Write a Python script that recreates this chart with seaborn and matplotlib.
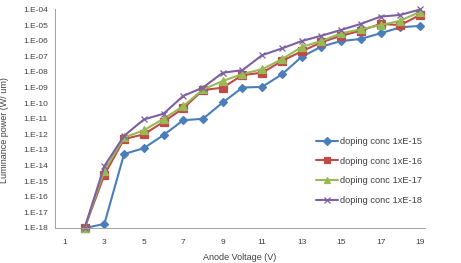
import numpy as np
import pandas as pd
import matplotlib
matplotlib.use("Agg")
import matplotlib.pyplot as plt
import matplotlib.ticker as mticker
import seaborn as sns

voltage = list(range(2, 20))
conc_15 = [1e-18, 1.8e-18, 5.5e-14, 1.3e-13, 9e-13, 8e-12, 1e-11, 1.1e-10, 1e-9, 1.1e-9,
           7e-9, 9.3e-8, 4.2e-7, 9.5e-7, 1.3e-6, 3e-6, 7.2e-6, 9e-6]
conc_16 = [1e-18, 2.5e-15, 5e-13, 1e-12, 6.3e-12, 4.7e-11, 6.9e-10, 9.8e-10, 6.3e-9, 8.9e-9,
           5e-8, 2.1e-7, 7.9e-7, 2.1e-6, 4.4e-6, 1.2e-5, 1e-5, 4.5e-5]
conc_17 = [1e-18, 4.7e-15, 6.3e-13, 1.8e-12, 1e-11, 6.5e-11, 7.6e-10, 2.6e-9, 7.4e-9, 1.5e-8,
           6.5e-8, 4e-7, 9.5e-7, 3e-6, 5.4e-6, 1e-5, 1.9e-5, 7.2e-5]
conc_18 = [1e-18, 9.3e-15, 8e-13, 9e-12, 2.1e-11, 2.9e-10, 1e-9, 8.9e-9, 1.3e-8, 1.2e-7,
           3.2e-7, 9.5e-7, 2.1e-6, 4.9e-6, 1.2e-5, 3.5e-5, 4.5e-5, 1e-4]
names = ["doping conc 1xE-15", "doping conc 1xE-16", "doping conc 1xE-17", "doping conc 1xE-18"]

sns.set_style("white")
plt.rcParams["font.family"] = ["Liberation Sans", "DejaVu Sans"]

colors = ["#4A7EBB", "#BE4B48", "#98B954", "#7D60A0"]
markers = ["D", "s", "^", "x"]
msizes = [4, 5.5, 5.5, 5]
fig = plt.figure(figsize=(4.61, 2.63), dpi=100)
ax = fig.add_axes([55 / 461, 1 - 228 / 263, 370 / 461, 218.5 / 263])

for name, vals, c, m, ms in zip(names, [conc_15, conc_16, conc_17, conc_18], colors, markers, msizes):
    sns.lineplot(x=voltage, y=vals, color=c, marker=m, markersize=ms, markeredgecolor=c,
                 markeredgewidth=0.9, linewidth=1.5, label=name, ax=ax, clip_on=False)

ax.set_yscale("log")
ax.set_ylim(1e-18, 1e-4)
ax.set_xlim(0.5, 19.25)
ax.yaxis.set_major_locator(mticker.FixedLocator([10.0 ** k for k in range(-18, -3)]))
ax.yaxis.set_minor_locator(mticker.NullLocator())
ax.yaxis.set_major_formatter(mticker.FuncFormatter(lambda v, p: f"1.E{int(round(np.log10(v))):+03d}"))

ax.set_xticks(range(1, 20, 2))
ax.set_xticks(np.arange(0.5, 19.5, 1), minor=True)
ax.tick_params(axis="x", which="major", length=0, pad=8, labelsize=6, labelcolor="#404040")
ax.tick_params(axis="x", which="minor", length=3, width=0.6, color="#A0A0A0", direction="out")
ax.tick_params(axis="y", which="major", length=3, width=0.6, color="#A0A0A0", direction="out",
               labelsize=6, labelcolor="#404040", pad=2)

for s in ["top", "right"]:
    ax.spines[s].set_visible(False)
for s in ["left", "bottom"]:
    ax.spines[s].set_color("#A0A0A0")
    ax.spines[s].set_linewidth(0.7)

ax.set_xlabel("Anode Voltage (V)", fontsize=6.5, color="#404040", labelpad=5)
ax.set_ylabel("Luminance power (W/ um)", fontsize=6.5, color="#404040")
ax.yaxis.set_label_coords(-0.125, 0.45)

leg = ax.legend(loc="center left", bbox_to_anchor=(0.684, 0.261), frameon=False,
                fontsize=6.7, handlelength=2.3, labelspacing=1.15, handletextpad=0.2)
for h in leg.legend_handles:
    h.set_markersize(4)
for t in leg.get_texts():
    t.set_color("#404040")

fig.savefig("out.png", dpi=100)
